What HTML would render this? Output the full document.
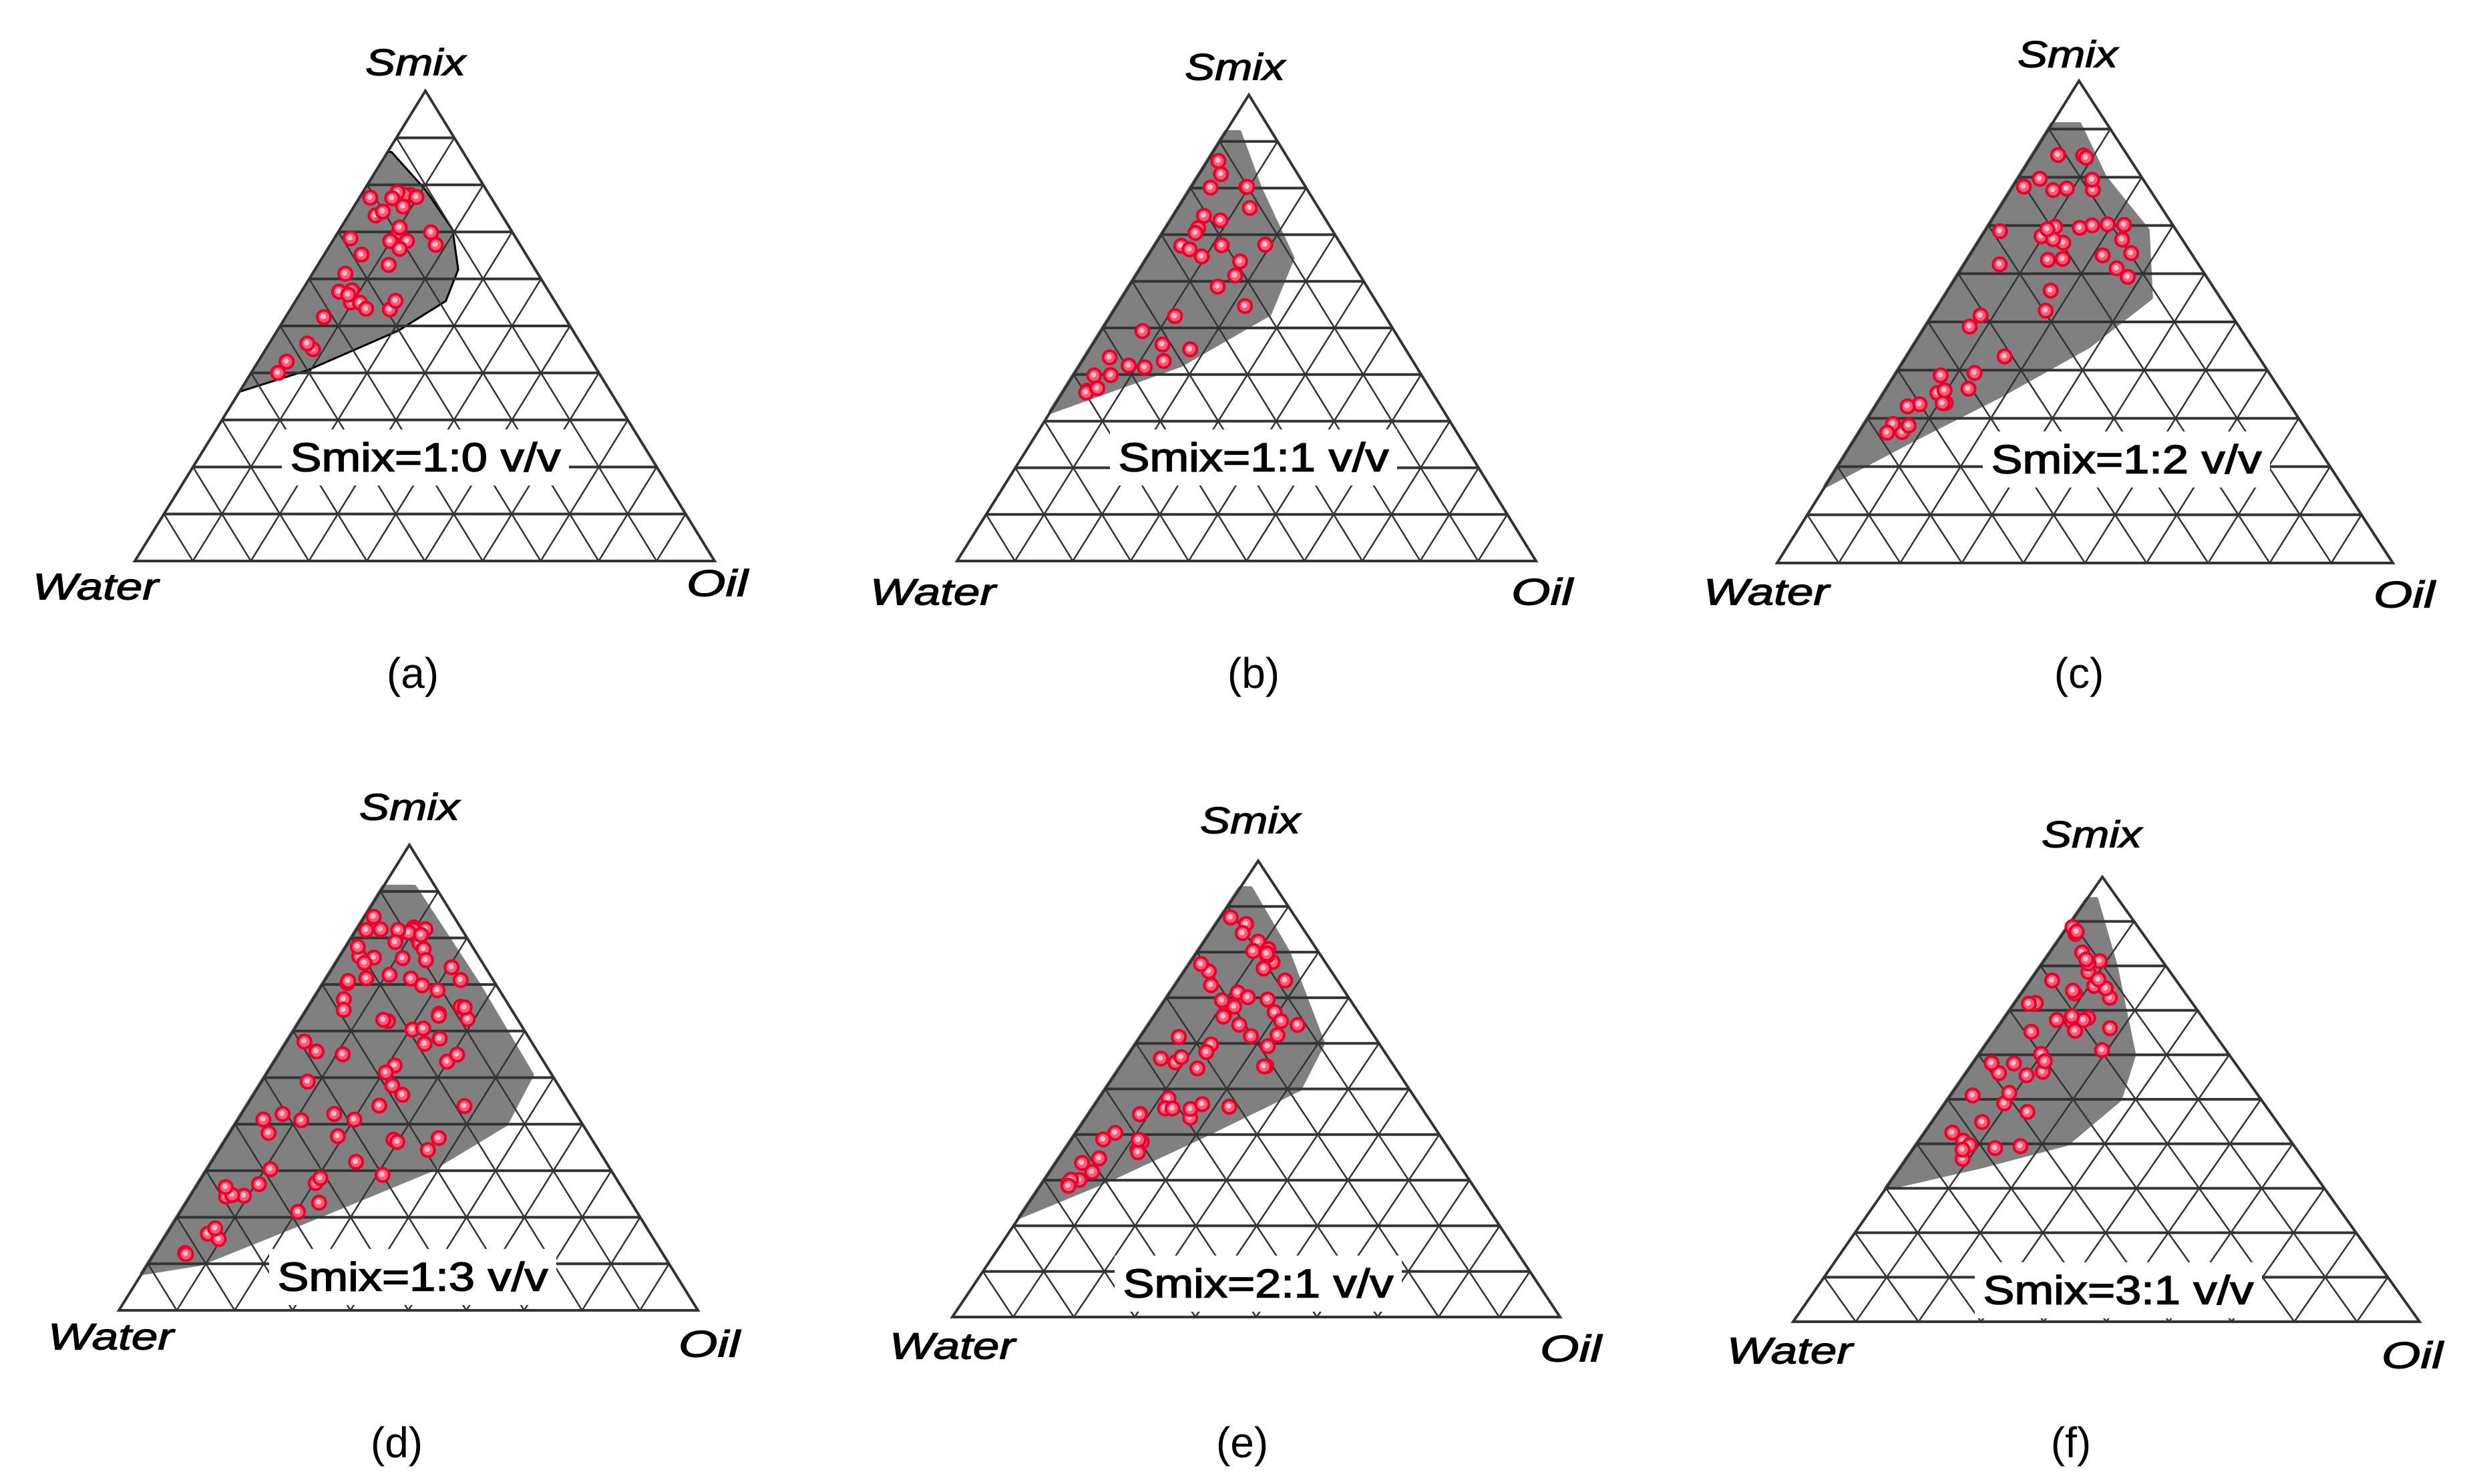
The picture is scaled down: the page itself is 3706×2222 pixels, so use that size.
<!DOCTYPE html>
<html><head><meta charset="utf-8">
<style>
html,body{margin:0;padding:0;background:#fff;}
svg{display:block;}
</style></head>
<body>
<svg id="s" xmlns="http://www.w3.org/2000/svg" width="3706" height="2222" viewBox="0 0 3706 2222">
<rect width="3706" height="2222" fill="#fff"/>
</svg>
<script>
const NS="http://www.w3.org/2000/svg";
const svg=document.getElementById('s');
function el(t,a,p){const e=document.createElementNS(NS,t);for(const k in a)e.setAttribute(k,a[k]);(p||svg).appendChild(e);return e;}
function txt(x,y,s,size,opts){const a={x:x,y:y,'font-family':'Liberation Sans, sans-serif','font-size':size,'text-anchor':'middle','dominant-baseline':'central',fill:'#000'};Object.assign(a,opts||{});const e=el('text',a);e.textContent=s;return e;}
let seed=7;function rnd(){seed=(seed*16807)%2147483647;return seed/2147483647;}
const P=[
 {ap:[637,136],bl:[202,840],br:[1070,840],lab:'Smix=1:0 v/v',box:[637,685],sm:[622,93],wa:[143,878],oi:[1074,873],cap:'(a)',cp:[618,1008],
  reg:[[.87,0],[.87,.05],[.79,.5],[.705,.66],[.62,.65],[.553,.58],[.49,.41],[.406,.16],[.36,0]],n:34,edge:true},
 {ap:[1870,142],bl:[1433,840],br:[2300,840],lab:'Smix=1:1 v/v',box:[1877,685],sm:[1849,100],wa:[1397,886],oi:[2309,886],cap:'(b)',cp:[1877,1008],
  reg:[[.92,0],[.92,.3],[.8,.6],[.65,.72],[.53,.58],[.42,.3],[.32,0]],n:32},
 {ap:[3113,121],bl:[2661,843],br:[3583,843],lab:'Smix=1:2 v/v',box:[3184,688],sm:[3096,81],wa:[2645,886],oi:[3600,890],cap:'(c)',cp:[3113,1008],
  reg:[[.91,0],[.91,.5],[.8,.7],[.69,.85],[.55,.75],[.45,.52],[.35,.3],[.25,.12],[.16,0]],n:45},
 {ap:[613,1265],bl:[178,1962],br:[1045,1962],lab:'Smix=1:3 v/v',box:[618,1912],sm:[613,1208],wa:[166,2001],oi:[1062,2012],cap:'(d)',cp:[594,2160],
  reg:[[.91,0],[.91,.6],[.7,.9],[.506,.93],[.4,.78],[.3,.55],[.2,.3],[.1,.1],[.08,0]],n:80},
 {ap:[1884,1289],bl:[1426,1972],br:[2336,1972],lab:'Smix=2:1 v/v',box:[1884,1922],sm:[1872,1228],wa:[1426,2015],oi:[2352,2019],cap:'(e)',cp:[1860,2160],
  reg:[[.94,0],[.94,.3],[.8,.75],[.6,.77],[.5,.64],[.4,.36],[.3,.15],[.22,0]],n:60},
 {ap:[3148,1313],bl:[2685,1979],br:[3623,1979],lab:'Smix=3:1 v/v',box:[3172,1932],sm:[3132,1249],wa:[2680,2022],oi:[3612,2029],cap:'(f)',cp:[3101,2160],
  reg:[[.95,0],[.95,.3],[.8,.6],[.6,.62],[.5,.55],[.4,.4],[.35,.2],[.3,0]],n:45}
];
function pt(p,t,s){const y=p.bl[1]+(p.ap[1]-p.bl[1])*t;const l=p.bl[0]+(p.ap[0]-p.bl[0])*t;const r=p.br[0]+(p.ap[0]-p.br[0])*t;return [l+s*(r-l),y];}
function smax(reg,t){for(let i=0;i<reg.length-1;i++){const a=reg[i],b=reg[i+1];if(t<=a[0]&&t>=b[0]){const f=(a[0]-b[0])?(a[0]-t)/(a[0]-b[0]):0;return a[1]+f*(b[1]-a[1]);}}return 0;}
P.forEach(p=>{
 const g=el('g',{});
 let d='';
 const top=p.reg[0][0];
 d+='M'+pt(p,top,0).join(',');
 for(let i=1;i<p.reg.length;i++){d+=' L'+pt(p,p.reg[i][0],p.reg[i][1]).join(',');}
 d+=' L'+pt(p,p.reg[p.reg.length-1][0],0).join(',')+' Z';
 el('path',{d:d,fill:'#808080',stroke:p.edge?'#000':'#808080','stroke-width':p.edge?3:6,'stroke-linejoin':'round'},g);
 for(let i=1;i<10;i++){
  const t=i/10;
  const a=pt(p,t,0),b=pt(p,t,1);
  el('line',{x1:a[0],y1:a[1],x2:b[0],y2:b[1],stroke:'#333','stroke-width':4},g);
 }
 for(let i=1;i<10;i++){
  const f=i/10;
  const bx=p.bl[0]+(p.br[0]-p.bl[0])*f;
  const r=[p.br[0]+(p.ap[0]-p.br[0])*(1-f),p.br[1]+(p.ap[1]-p.br[1])*(1-f)];
  el('line',{x1:bx,y1:p.bl[1],x2:r[0],y2:r[1],stroke:'#333','stroke-width':2.5},g);
  const l=[p.bl[0]+(p.ap[0]-p.bl[0])*f,p.bl[1]+(p.ap[1]-p.bl[1])*f];
  el('line',{x1:bx,y1:p.bl[1],x2:l[0],y2:l[1],stroke:'#333','stroke-width':2.5},g);
 }
 el('polygon',{points:[p.ap,p.bl,p.br].map(q=>q.join(',')).join(' '),fill:'none',stroke:'#333','stroke-width':4},g);
 const tmin=p.reg[p.reg.length-1][0];
 let c=0,guard=0;
 while(c<p.n&&guard<5000){guard++;
  const t=tmin+0.04+rnd()*(top-tmin-0.1);
  const sm=smax(p.reg,t);
  if(sm<0.12)continue;
  const s=0.06+rnd()*(sm-0.12);
  const q=pt(p,t,s);
  el('circle',{cx:q[0],cy:q[1],r:10,fill:'#ff5a78',stroke:'#e8002a','stroke-width':4},g);
  el('circle',{cx:q[0]-1,cy:q[1]-1,r:4,fill:'#ffc0cc'},g);
  c++;
 }
 el('rect',{x:p.box[0]-215,y:p.box[1]-42,width:430,height:84,fill:'#fff'},g);
 txt(p.box[0],p.box[1],p.lab,60,{textLength:405,lengthAdjust:'spacingAndGlyphs',stroke:'#000','stroke-width':1.5});
 txt(p.sm[0],p.sm[1],'Smix',56,{'font-style':'italic',textLength:150,lengthAdjust:'spacingAndGlyphs',stroke:'#000','stroke-width':1.2});
 txt(p.wa[0],p.wa[1],'Water',56,{'font-style':'italic',textLength:188,lengthAdjust:'spacingAndGlyphs',stroke:'#000','stroke-width':1.2});
 txt(p.oi[0],p.oi[1],'Oil',56,{'font-style':'italic',textLength:92,lengthAdjust:'spacingAndGlyphs',stroke:'#000','stroke-width':1.2});
 txt(p.cp[0],p.cp[1],p.cap,64,{});
});
</script>
</body></html>
